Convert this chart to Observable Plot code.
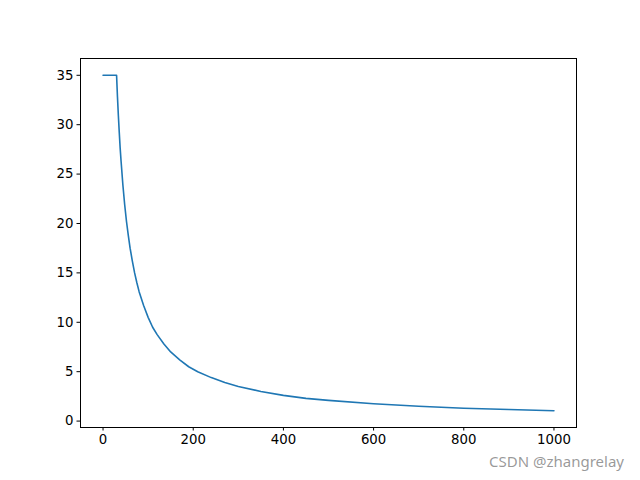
<!DOCTYPE html>
<html>
<head>
<meta charset="utf-8">
<script src="https://cdn.jsdelivr.net/npm/d3@7"></script>
<script src="https://cdn.jsdelivr.net/npm/@observablehq/plot@0.6"></script>
<style>
  body { margin: 0; background: #fff; }
  #wrap { position: relative; width: 640px; height: 480px; }
  #wm { position: absolute; left: 489px; top: 451px; font-family: "Noto Sans", "DejaVu Sans", sans-serif; font-size: 15px; color: rgba(120,120,120,0.75); white-space: nowrap; }
</style>
</head>
<body>
<div id="wrap"><div id="wm">CSDN @zhangrelay</div></div>
<script>
const xs = [0, 10, 20, 30, 32, 34, 36, 38, 40, 44, 48, 52, 56, 60, 65, 70, 75, 80, 90, 100, 110, 120, 135, 150, 170, 190, 210, 240, 270, 300, 350, 400, 450, 500, 600, 700, 800, 900, 1000];
const ys = [35, 35, 35, 35, 32.8, 30.9, 29.2, 27.6, 26.3, 23.9, 21.9, 20.2, 18.8, 17.5, 16.2, 15.0, 14.0, 13.1, 11.7, 10.5, 9.5, 8.75, 7.8, 7.0, 6.2, 5.5, 5.0, 4.4, 3.9, 3.5, 3.0, 2.6, 2.3, 2.1, 1.75, 1.5, 1.3, 1.17, 1.05];
const xTicks = [0, 200, 400, 600, 800, 1000];
const yTicks = [0, 5, 10, 15, 20, 25, 30, 35];

const data = xs.map((x, i) => ({x, y: ys[i]}));

const chart = Plot.plot({
  width: 640,
  height: 480,
  marginLeft: 80,
  marginRight: 64,
  marginTop: 58,
  marginBottom: 53,
  style: { fontFamily: "DejaVu Sans", fontSize: "13.3px", color: "black", background: "white" },
  x: { domain: [-50, 1050] },
  y: { domain: [-0.65, 36.7] },
  marks: [
    Plot.line(data, { x: "x", y: "y", stroke: "#1f77b4", strokeWidth: 1.6 }),
    Plot.frame({ stroke: "black", strokeWidth: 1 }),
    Plot.axisX({ ticks: xTicks, tickSize: 3.5, tickPadding: 3.5, label: null, tickFormat: d => String(d), fontSize: 13.3 }),
    Plot.axisY({ ticks: yTicks, tickSize: 3.5, tickPadding: 3.5, label: null, tickFormat: d => String(d), fontSize: 13.3 })
  ]
});
document.getElementById("wrap").prepend(chart);
</script>
</body>
</html>
